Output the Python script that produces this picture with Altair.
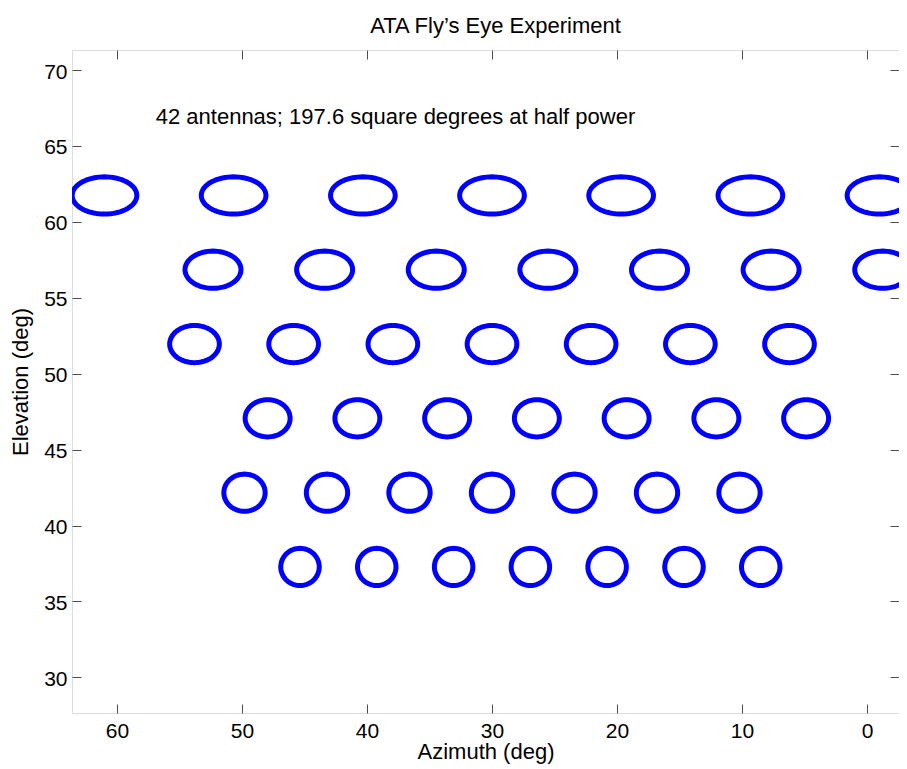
import altair as alt
import pandas as pd

# ---- data ----
row_elevation = [61.74, 56.85, 51.95, 47.06, 42.16, 37.27]
row1_az = [61.0, 50.67, 40.33, 30.0, 19.67, 9.33, -1.0]
row2_az = [52.32, 43.39, 34.46, 25.53, 16.6, 7.67, -1.26]
row3_az = [53.8, 45.87, 37.93, 30.0, 22.07, 14.13, 6.2]
row4_az = [47.95, 40.77, 33.59, 26.41, 19.23, 12.05, 4.87]
row5_az = [49.8, 43.2, 36.6, 30.0, 23.4, 16.8, 10.2]
row6_az = [45.36, 39.22, 33.07, 26.93, 20.79, 14.64, 8.5]
row_azimuths = [row1_az, row2_az, row3_az, row4_az, row5_az, row6_az]
beam_diameter = 2.45  # deg, half-power beam width

x_ticks = [0, 10, 20, 30, 40, 50, 60]
y_ticks = [30, 35, 40, 45, 50, 55, 60, 65, 70]
x_domain = [-2.56, 63.6]
y_domain = [27.65, 71.32]

note_text = "42 antennas; 197.6 square degrees at half power"
note_az = [56.9]
note_el = [66.9]

records = []
for i, (el, azs) in enumerate(zip(row_elevation, row_azimuths)):
    for j, az in enumerate(azs):
        records.append({"id": f"{i}-{j}", "az": az, "el": el, "d": beam_diameter})
beams = pd.DataFrame(records)
notes = pd.DataFrame({"az": note_az, "el": note_el, "label": [note_text]})

FONT = "Liberation Sans"
AX = "#4d4d4d"

xscale = alt.Scale(domain=x_domain, reverse=True, nice=False, zero=False)
yscale = alt.Scale(domain=y_domain, nice=False, zero=False)

x_axis = alt.Axis(
    orient="bottom", values=x_ticks, offset=-9, domain=False, grid=False,
    ticks=True, tickSize=9, tickColor=AX, labelPadding=7, labelFontSize=21,
    labelFont=FONT, labelColor="black", title="Azimuth (deg)", titleFont=FONT,
    titleFontSize=22, titleFontWeight="normal", titleColor="black", titlePadding=0,
)
y_axis = alt.Axis(
    orient="left", values=y_ticks, offset=-9, domain=False, grid=False,
    ticks=True, tickSize=9, tickColor=AX, labelPadding=5, labelFontSize=21,
    labelFont=FONT, labelColor="black", labelOffset=2, title="Elevation (deg)",
    titleFont=FONT, titleFontSize=22, titleFontWeight="normal", titleColor="black",
    titlePadding=11,
)
x_axis_top = alt.Axis(
    orient="top", values=x_ticks, offset=-9, domain=False, grid=False,
    ticks=True, tickSize=9, tickColor=AX, labels=False, title=None,
)
y_axis_right = alt.Axis(
    orient="right", values=y_ticks, offset=-9, domain=False, grid=False,
    ticks=True, tickSize=9, tickColor=AX, labels=False, title=None,
)

ellipses = (
    alt.Chart(beams)
    .transform_calculate(t="sequence(0, 365, 5)")
    .transform_flatten(["t"])
    .transform_calculate(
        ex="datum.az + (datum.d / 2) / cos(datum.el * PI / 180) * cos(datum.t * PI / 180)",
        ey="datum.el + (datum.d / 2) * sin(datum.t * PI / 180)",
    )
    .mark_line(color="#0000ff", strokeWidth=5, clip=True,
               strokeJoin="round", strokeCap="round")
    .encode(
        x=alt.X("ex:Q", scale=xscale, axis=x_axis),
        y=alt.Y("ey:Q", scale=yscale, axis=y_axis),
        detail="id:N",
        order="t:Q",
    )
)

frame_ticks = (
    alt.Chart(beams)
    .mark_point(opacity=0)
    .encode(
        x=alt.X("az:Q", scale=xscale, axis=x_axis_top),
        y=alt.Y("el:Q", scale=yscale, axis=y_axis_right),
    )
)

note = (
    alt.Chart(notes)
    .mark_text(align="left", baseline="middle", fontSize=22, font=FONT, color="black")
    .encode(
        x=alt.X("az:Q", scale=xscale, axis=None),
        y=alt.Y("el:Q", scale=yscale, axis=None),
        text="label:N",
    )
)

chart = (
    alt.layer(ellipses, frame_ticks, note)
    .resolve_scale(x="independent", y="independent")
    .properties(
        width=827,
        height=663,
        autosize=alt.AutoSizeParams(type="none"),
        padding={"left": 64, "top": 42, "right": 0, "bottom": 55},
        title=alt.TitleParams(
            text="ATA Fly\u2019s Eye Experiment", fontSize=22, font=FONT,
            fontWeight="normal", color="black", anchor="middle", frame="group",
            baseline="alphabetic", offset=-5, dx=10,
        ),
    )
    .configure_view(stroke=AX, strokeWidth=1)
    .configure(background="white")
)

chart.save("out.html", embed_options={"renderer": "svg", "actions": False})
